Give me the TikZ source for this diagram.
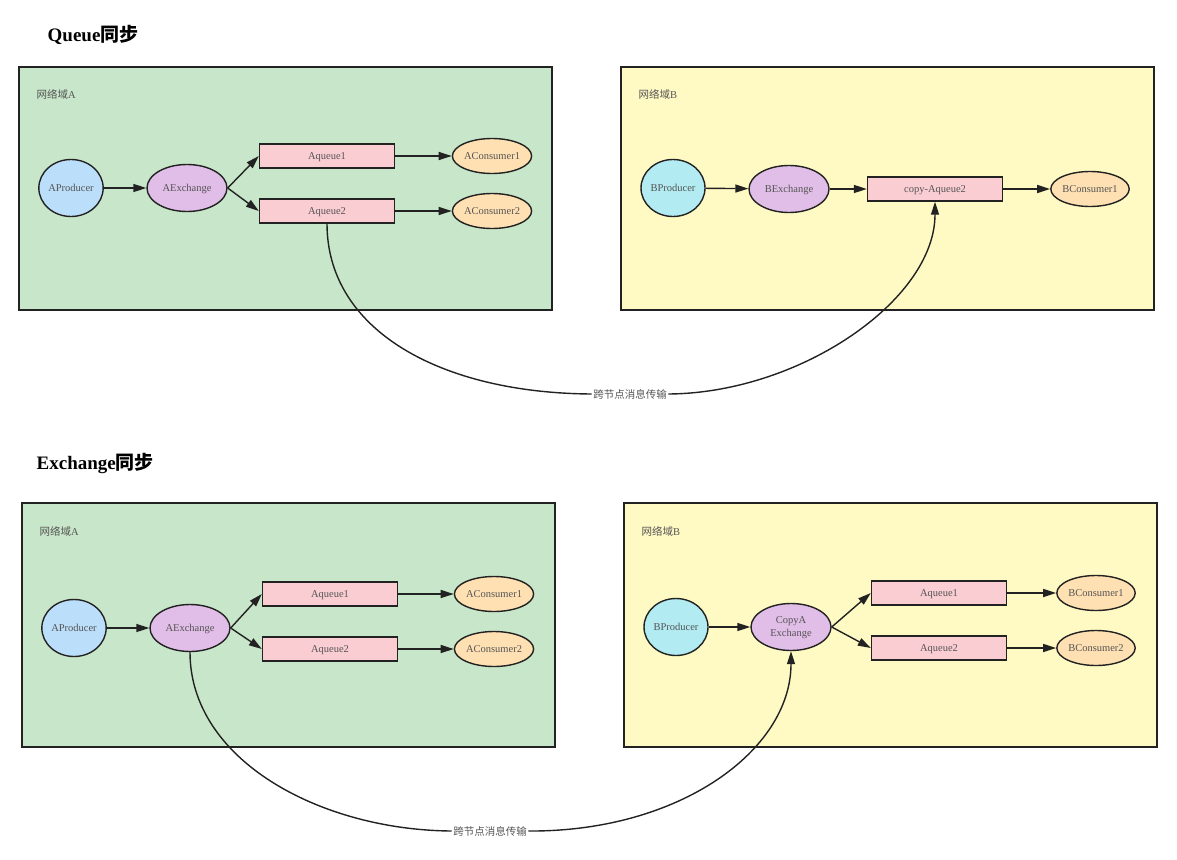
\documentclass[tikz,border=0pt]{standalone}
\usepackage{fontspec}
\setmainfont{Liberation Serif}
\newfontfamily\cjk{Noto Sans CJK SC}
\usetikzlibrary{arrows.meta,shapes.geometric}
\definecolor{domainA}{HTML}{C8E6C9}
\definecolor{domainB}{HTML}{FFF9C4}
\definecolor{producerA}{HTML}{BBDEFB}
\definecolor{producerB}{HTML}{B2EBF2}
\definecolor{exchange}{HTML}{E1BEE7}
\definecolor{queue}{HTML}{FACDD3}
\definecolor{consumer}{HTML}{FFE0B2}
\definecolor{nodetext}{HTML}{555555}
\definecolor{linegray}{HTML}{222222}

\begin{document}
\begin{tikzpicture}[
    x=1pt, y=-1pt,
    line width=1.4pt,
    every node/.style={font=\fontsize{10.5}{13}\selectfont,text=nodetext},
    domain box/.style={draw=linegray,line width=1.4pt},
    domain label/.style={anchor=west,inner sep=0pt},
    title node/.style={anchor=west,inner sep=0pt,text=black,font=\fontsize{19}{22}\selectfont\bfseries},
    producer node/.style={ellipse,draw=linegray,inner sep=0pt,text depth=0pt,minimum width=64pt,minimum height=57pt},
    exchange node/.style={ellipse,draw=linegray,fill=exchange,inner sep=0pt,text depth=0pt,minimum width=80pt,minimum height=47pt,align=center},
    queue node/.style={rectangle,draw=linegray,fill=queue,inner sep=0pt,text depth=0pt,minimum width=135pt,minimum height=24pt},
    consumer node/.style={ellipse,draw=linegray,fill=consumer,inner sep=0pt,text depth=0pt,minimum width=74pt,minimum height=35pt},
    flow/.style={draw=linegray,-{Triangle[length=13pt,width=8pt]}},
    sync label/.style={inner sep=1pt}]

  \useasboundingbox (0,0) rectangle (1177,859);

  % Queue sync
  \node[title node] (qTitle) at (47,35) {Queue{\cjk 同步}};
  \filldraw[domain box,fill=domainA] (19,67) rectangle (552,310);
  \filldraw[domain box,fill=domainB] (621,67) rectangle (1154,310);
  \node[domain label] (qDomainA) at (36,94) {{\cjk 网络域}A};
  \node[domain label] (qDomainB) at (638,94) {{\cjk 网络域}B};

  \node[producer node,fill=producerA] (qAProducer) at (71,188) {AProducer};
  \node[exchange node] (qAExchange) at (187,188) {AExchange};
  \node[queue node] (qAqueue1) at (327,156) {Aqueue1};
  \node[queue node] (qAqueue2) at (327,211) {Aqueue2};
  \node[consumer node] (qAConsumer1) at (492,156) {AConsumer1};
  \node[consumer node] (qAConsumer2) at (492,211) {AConsumer2};

  \node[producer node,fill=producerB] (qBProducer) at (673,188) {BProducer};
  \node[exchange node] (qBExchange) at (789,189) {BExchange};
  \node[queue node] (qCopyAqueue2) at (935,189) {copy-Aqueue2};
  \node[consumer node] (qBConsumer1) at (1090,189) {BConsumer1};

  \node[sync label] (qSync) at (630,394) {\cjk 跨节点消息传输};

  \path
    (qAProducer) edge[flow] (qAExchange)
    (qAExchange.east) edge[flow] (qAqueue1.west)
                      edge[flow] (qAqueue2.west)
    (qAqueue1) edge[flow] (qAConsumer1)
    (qAqueue2) edge[flow] (qAConsumer2)
    (qBProducer) edge[flow] (qBExchange)
    (qBExchange) edge[flow] (qCopyAqueue2)
    (qCopyAqueue2) edge[flow] (qBConsumer1);

  \draw[linegray] (qAqueue2.south) .. controls (327,330) and (440,393) .. (qSync.west);
  \draw[flow] (qSync.east) .. controls (800,393) and (935,300) .. (qCopyAqueue2.south);

  % Exchange sync
  \node[title node] (eTitle) at (36,463) {Exchange{\cjk 同步}};
  \filldraw[domain box,fill=domainA] (22,503) rectangle (555,747);
  \filldraw[domain box,fill=domainB] (624,503) rectangle (1157,747);
  \node[domain label] (eDomainA) at (39,531) {{\cjk 网络域}A};
  \node[domain label] (eDomainB) at (641,531) {{\cjk 网络域}B};

  \node[producer node,fill=producerA] (eAProducer) at (74,628) {AProducer};
  \node[exchange node] (eAExchange) at (190,628) {AExchange};
  \node[queue node] (eAqueue1) at (330,594) {Aqueue1};
  \node[queue node] (eAqueue2) at (330,649) {Aqueue2};
  \node[consumer node] (eAConsumer1) at (494,594) {AConsumer1};
  \node[consumer node] (eAConsumer2) at (494,649) {AConsumer2};

  \node[producer node,fill=producerB] (eBProducer) at (676,627) {BProducer};
  \node[exchange node] (eCopyAExchange) at (791,627) {CopyA\\Exchange};
  \node[queue node] (eBqueue1) at (939,593) {Aqueue1};
  \node[queue node] (eBqueue2) at (939,648) {Aqueue2};
  \node[consumer node] (eBConsumer1) at (1096,593) {BConsumer1};
  \node[consumer node] (eBConsumer2) at (1096,648) {BConsumer2};

  \node[sync label] (eSync) at (490,831) {\cjk 跨节点消息传输};

  \path
    (eAProducer) edge[flow] (eAExchange)
    (eAExchange.east) edge[flow] (eAqueue1.west)
                      edge[flow] (eAqueue2.west)
    (eAqueue1) edge[flow] (eAConsumer1)
    (eAqueue2) edge[flow] (eAConsumer2)
    (eBProducer) edge[flow] (eCopyAExchange)
    (eCopyAExchange.east) edge[flow] (eBqueue1.west)
                          edge[flow] (eBqueue2.west)
    (eBqueue1) edge[flow] (eBConsumer1)
    (eBqueue2) edge[flow] (eBConsumer2);

  \draw[linegray] (eAExchange.south) .. controls (190,760) and (320,830) .. (eSync.west);
  \draw[flow] (eSync.east) .. controls (680,832) and (791,750) .. (eCopyAExchange.south);
\end{tikzpicture}
\end{document}
